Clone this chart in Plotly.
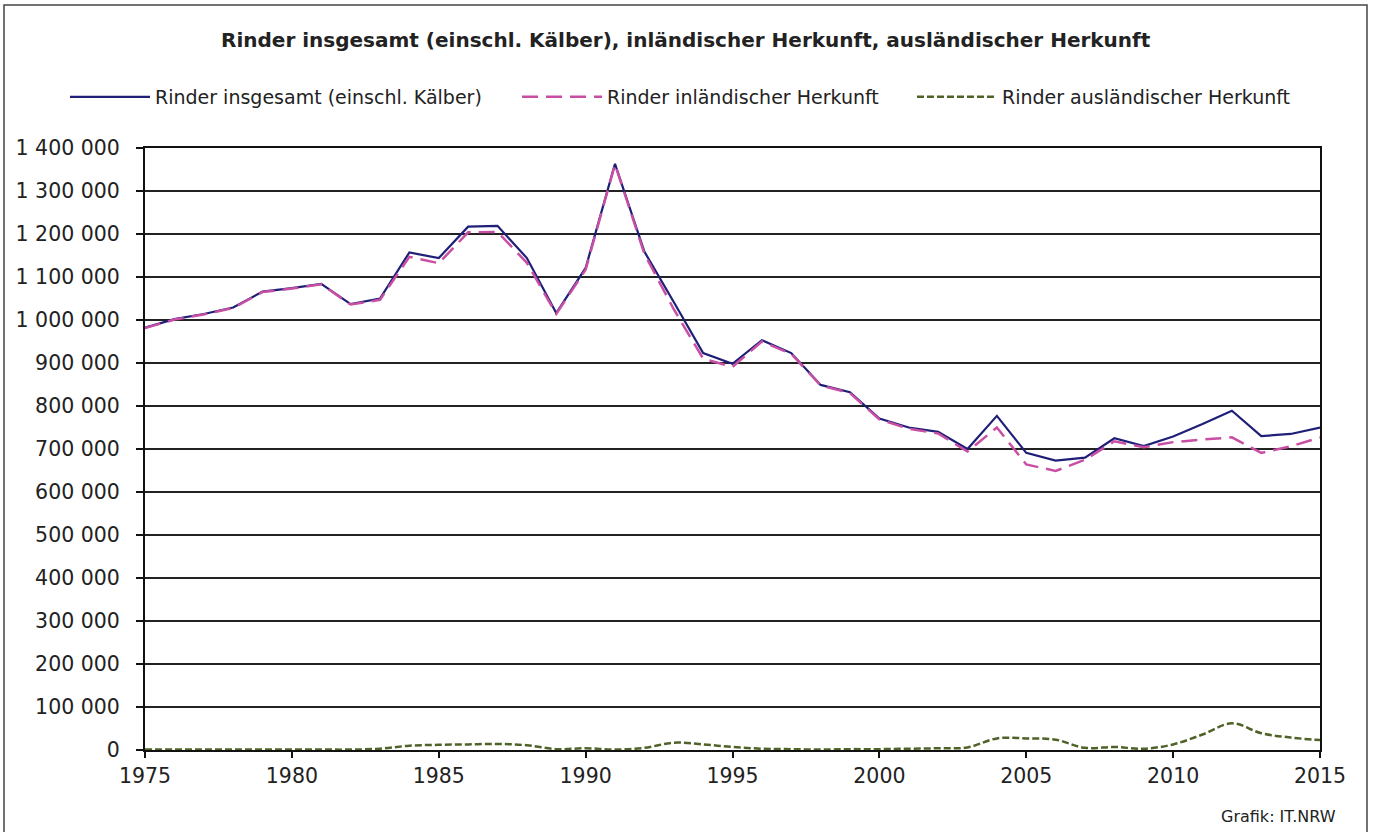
import plotly.graph_objects as go

years = list(range(1975, 2016))

rinder_insgesamt = [
    982000, 1002000, 1014000, 1029000, 1066000, 1074000, 1084000, 1037000, 1050000, 1157000,
    1144000, 1217000, 1219000, 1144000, 1016000, 1121000, 1363000, 1159000, 1042000, 923000,
    898000, 953000, 923000, 849000, 832000, 771000, 750000, 740000, 700000, 777000,
    691000, 673000, 680000, 725000, 707000, 729000, 758000, 789000, 730000, 735000,
    750000,
]

rinder_inland = [
    981000, 1001000, 1013000, 1028000, 1065000, 1073000, 1083000, 1036000, 1047000, 1147000,
    1132000, 1204000, 1205000, 1133000, 1014000, 1117000, 1362000, 1154000, 1025000, 910000,
    891000, 950000, 921000, 848000, 830000, 769000, 747000, 736000, 694000, 750000,
    664000, 649000, 675000, 718000, 704000, 716000, 722000, 727000, 691000, 706000,
    727000,
]

rinder_ausland = [
    1000, 1000, 1000, 1000, 1000, 1000, 1000, 1000, 3000, 10000,
    12000, 13000, 14000, 11000, 2000, 4000, 1000, 5000, 17000, 13000,
    7000, 3000, 2000, 1000, 2000, 2000, 3000, 4000, 6000, 27000,
    27000, 24000, 5000, 7000, 3000, 13000, 36000, 62000, 39000, 29000,
    23000,
]

names = [
    "Rinder insgesamt (einschl. Kälber)",
    "Rinder inländischer Herkunft",
    "Rinder ausländischer Herkunft",
]

title_text = "Rinder insgesamt (einschl. Kälber), inländischer Herkunft, ausländischer Herkunft"
source_text = "Grafik: IT.NRW"

FONT = "DejaVu Sans, Verdana, sans-serif"
TXT = "#222222"

fig = go.Figure()
fig.add_trace(go.Scatter(
    x=years, y=rinder_insgesamt, name=names[0], mode="lines", legend="legend",
    line=dict(color="#1F1F78", width=2.2),
))
fig.add_trace(go.Scatter(
    x=years, y=rinder_inland, name=names[1], mode="lines", legend="legend2",
    line=dict(color="#C84FA4", width=2.5, dash="16px,8px"),
))
fig.add_trace(go.Scatter(
    x=years, y=rinder_ausland, name=names[2], mode="lines", legend="legend3",
    line=dict(color="#4F6228", width=2.5, dash="7px,3px", shape="spline", smoothing=1),
))

L, R, T, B = 145, 53, 148, 82
W, H = 1373, 832
pw, ph = W - L - R, H - T - B

def px_x(p):
    return (p - L) / pw

def px_y(p):
    return (H - B - p) / ph

def leg(xpix):
    return dict(
        orientation="h", x=px_x(xpix), xanchor="left", y=px_y(97), yanchor="middle",
        font=dict(size=19, family=FONT, color=TXT),
        itemwidth=80, bgcolor="rgba(0,0,0,0)",
    )

fig.update_layout(
    width=W, height=H,
    margin=dict(l=L, r=R, t=T, b=B, autoexpand=False),
    paper_bgcolor="white", plot_bgcolor="white",
    font=dict(family=FONT, color=TXT),
    separators=", ",
    showlegend=True,
    legend=leg(65),
    legend2=leg(517),
    legend3=leg(912),
    annotations=[
        dict(text="<b>" + title_text + "</b>", xref="paper", yref="paper",
             x=px_x(686), y=px_y(40), xanchor="center", yanchor="middle",
             showarrow=False, font=dict(size=20, family=FONT, color=TXT)),
        dict(text=source_text, xref="paper", yref="paper",
             x=px_x(1338), y=px_y(816), xanchor="right", yanchor="middle",
             showarrow=False, font=dict(size=16, family=FONT, color=TXT)),
    ],
    shapes=[
        dict(type="rect", xref="paper", yref="paper",
             x0=px_x(4), x1=px_x(1367), y0=px_y(835), y1=px_y(5),
             line=dict(color="#444", width=1.5), fillcolor="rgba(0,0,0,0)", layer="below"),
    ],
)

fig.update_xaxes(
    range=[1975, 2015], tickmode="linear", tick0=1975, dtick=5,
    ticks="outside", ticklen=6, tickwidth=1.5, tickcolor="#111",
    showline=True, linecolor="#111", linewidth=2, mirror=True,
    showgrid=False, zeroline=False,
    tickfont=dict(size=20.5, family=FONT, color=TXT),
)
fig.update_yaxes(
    range=[0, 1400000], tickmode="linear", tick0=0, dtick=100000,
    tickformat=",.0f",
    ticks="outside", ticklen=7, tickwidth=1.5, tickcolor="#111",
    ticklabelstandoff=12,
    showline=True, linecolor="#111", linewidth=2, mirror=True,
    showgrid=True, gridcolor="#222", gridwidth=1.5, zeroline=False,
    tickfont=dict(size=20.5, family=FONT, color=TXT),
)

fig.write_html(
    "out.html",
    config={"displayModeBar": False},
    post_script="document.body.style.margin='0';",
)
